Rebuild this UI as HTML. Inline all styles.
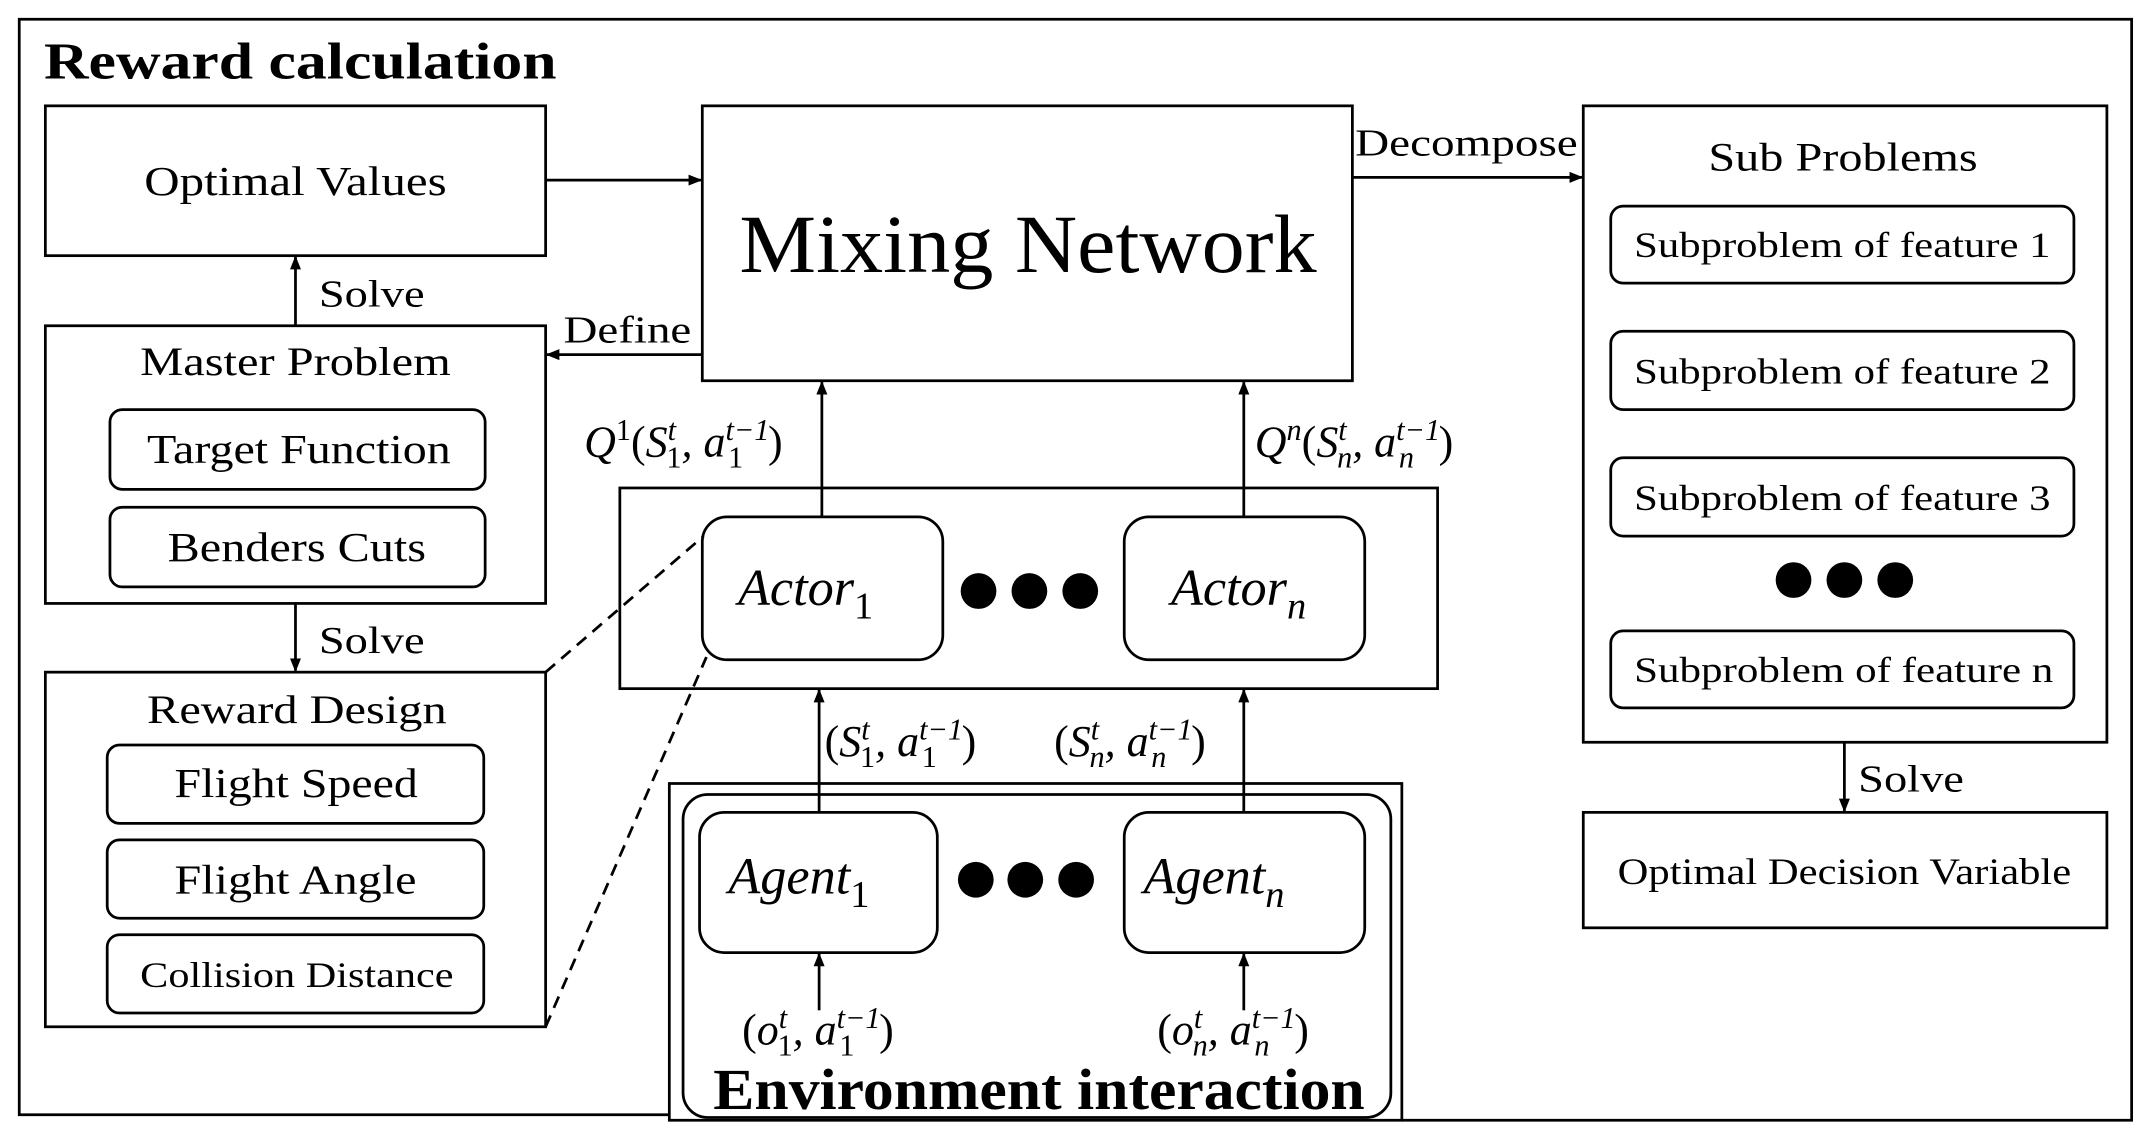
<!DOCTYPE html>
<html><head><meta charset="utf-8"><style>
html,body{margin:0;padding:0;background:#fff;}
svg{display:block;}
text{font-family:"Liberation Serif",serif;fill:#000;}
.it{font-style:italic;}
</style></head><body>
<svg width="2155" height="1145" viewBox="0 0 1568 833" preserveAspectRatio="none" xmlns="http://www.w3.org/2000/svg">
<defs>
<marker id="ah" markerWidth="10" markerHeight="8" refX="9" refY="4" orient="auto" markerUnits="userSpaceOnUse">
<path d="M0,0 L10,4 L0,8 z" fill="#000"/>
</marker>
</defs>
<g fill="none" stroke="#000" stroke-width="2">
<path d="M487,811 L14,811 L14,14 L1551,14 L1551,815 L1020,815"/>
<rect x="487" y="570" width="533" height="245"/>
<rect x="497" y="578" width="515" height="235" rx="18"/>
<rect x="33" y="77" width="364" height="109"/>
<rect x="511" y="77" width="473" height="200"/>
<rect x="1152" y="77" width="381" height="463"/>
<rect x="1172" y="150" width="337" height="56" rx="9"/>
<rect x="1172" y="241" width="337" height="57" rx="9"/>
<rect x="1172" y="333" width="337" height="57" rx="9"/>
<rect x="1172" y="459" width="337" height="56" rx="9"/>
<rect x="1152" y="591" width="381" height="84"/>
<rect x="33" y="237" width="364" height="202"/>
<rect x="80" y="298" width="273" height="58" rx="9"/>
<rect x="80" y="369" width="273" height="58" rx="9"/>
<rect x="33" y="489" width="364" height="258"/>
<rect x="78" y="542" width="274" height="57" rx="9"/>
<rect x="78" y="611" width="274" height="57" rx="9"/>
<rect x="78" y="680" width="274" height="57" rx="9"/>
<rect x="451" y="355" width="595" height="146"/>
<rect x="511" y="376" width="175" height="104" rx="18"/>
<rect x="818" y="376" width="175" height="104" rx="18"/>
<rect x="509" y="591" width="173" height="102" rx="18"/>
<rect x="818" y="591" width="175" height="102" rx="18"/>
</g>
<g stroke="#000" stroke-width="2" fill="none" marker-end="url(#ah)">
<line x1="397" y1="131" x2="510" y2="131"/>
<line x1="984" y1="129" x2="1151" y2="129"/>
<line x1="1342" y1="540" x2="1342" y2="590"/>
<line x1="215" y1="237" x2="215" y2="187"/>
<line x1="511" y1="258" x2="398" y2="258"/>
<line x1="215" y1="439" x2="215" y2="488"/>
<line x1="598" y1="376" x2="598" y2="278"/>
<line x1="905" y1="376" x2="905" y2="278"/>
<line x1="596" y1="591" x2="596" y2="502"/>
<line x1="905" y1="591" x2="905" y2="502"/>
<line x1="596" y1="735" x2="596" y2="694"/>
<line x1="905" y1="735" x2="905" y2="694"/>
</g>
<g stroke="#000" stroke-width="2" stroke-dasharray="9,6" fill="none">
<line x1="397" y1="489" x2="512" y2="390"/>
<line x1="397" y1="747" x2="514" y2="478"/>
</g>
<g fill="#000">
<circle cx="712" cy="430" r="13"/><circle cx="749" cy="430" r="13"/><circle cx="786" cy="430" r="13"/>
<circle cx="710" cy="640" r="13"/><circle cx="746" cy="640" r="13"/><circle cx="783" cy="640" r="13"/>
<circle cx="1305" cy="422" r="13"/><circle cx="1342" cy="422" r="13"/><circle cx="1379" cy="422" r="13"/>
</g>
<g lengthAdjust="spacingAndGlyphs">
<text x="32" y="57" font-size="38" font-weight="bold" textLength="373" lengthAdjust="spacingAndGlyphs">Reward calculation</text>
<text x="105" y="142" font-size="30" textLength="220" lengthAdjust="spacingAndGlyphs">Optimal Values</text>
<text x="538" y="198" font-size="60" textLength="420" lengthAdjust="spacingAndGlyphs">Mixing Network</text>
<text x="986" y="113" font-size="28" textLength="162" lengthAdjust="spacingAndGlyphs">Decompose</text>
<text x="1243" y="124" font-size="29" textLength="196" lengthAdjust="spacingAndGlyphs">Sub Problems</text>
<text x="1189" y="187" font-size="26" textLength="303" lengthAdjust="spacingAndGlyphs">Subproblem of feature 1</text>
<text x="1189" y="279" font-size="26" textLength="303" lengthAdjust="spacingAndGlyphs">Subproblem of feature 2</text>
<text x="1189" y="371" font-size="26" textLength="303" lengthAdjust="spacingAndGlyphs">Subproblem of feature 3</text>
<text x="1189" y="496" font-size="26" textLength="305" lengthAdjust="spacingAndGlyphs">Subproblem of feature n</text>
<text x="1352" y="576" font-size="28" textLength="77" lengthAdjust="spacingAndGlyphs">Solve</text>
<text x="1177" y="643" font-size="27" textLength="330" lengthAdjust="spacingAndGlyphs">Optimal Decision Variable</text>
<text x="232" y="223" font-size="28" textLength="77" lengthAdjust="spacingAndGlyphs">Solve</text>
<text x="410" y="249" font-size="28" textLength="93" lengthAdjust="spacingAndGlyphs">Define</text>
<text x="102" y="273" font-size="29" textLength="226" lengthAdjust="spacingAndGlyphs">Master Problem</text>
<text x="107" y="337" font-size="30" textLength="221" lengthAdjust="spacingAndGlyphs">Target Function</text>
<text x="122" y="408" font-size="30" textLength="188" lengthAdjust="spacingAndGlyphs">Benders Cuts</text>
<text x="232" y="475" font-size="28" textLength="77" lengthAdjust="spacingAndGlyphs">Solve</text>
<text x="107" y="526" font-size="29" textLength="218" lengthAdjust="spacingAndGlyphs">Reward Design</text>
<text x="127" y="580" font-size="30" textLength="177" lengthAdjust="spacingAndGlyphs">Flight Speed</text>
<text x="127" y="650" font-size="30" textLength="176" lengthAdjust="spacingAndGlyphs">Flight Angle</text>
<text x="102" y="718" font-size="26" textLength="228" lengthAdjust="spacingAndGlyphs">Collision Distance</text>
</g>
<text x="425" y="332" font-size="32" class="it">Q<tspan dy="-12" font-size="22" font-style="normal">1</tspan><tspan dy="12" font-style="normal">(</tspan>S<tspan dy="-12" font-size="22">t</tspan><tspan dx="-7" dy="20" font-size="22" font-style="normal">1</tspan><tspan dy="-8">, a</tspan><tspan dy="-12" font-size="22">t−1</tspan><tspan dx="-30" dy="20" font-size="22" font-style="normal">1</tspan><tspan dx="18" dy="-8" font-style="normal">)</tspan></text>
<text x="913" y="332" font-size="32" class="it">Q<tspan dy="-12" font-size="22">n</tspan><tspan dy="12" font-style="normal">(</tspan>S<tspan dy="-12" font-size="22">t</tspan><tspan dx="-7" dy="20" font-size="22">n</tspan><tspan dy="-8">, a</tspan><tspan dy="-12" font-size="22">t−1</tspan><tspan dx="-30" dy="20" font-size="22">n</tspan><tspan dx="18" dy="-8" font-style="normal">)</tspan></text>
<text x="600" y="550" font-size="32" class="it"><tspan font-style="normal">(</tspan>S<tspan dy="-12" font-size="22">t</tspan><tspan dx="-7" dy="20" font-size="22" font-style="normal">1</tspan><tspan dy="-8">, a</tspan><tspan dy="-12" font-size="22">t−1</tspan><tspan dx="-30" dy="20" font-size="22" font-style="normal">1</tspan><tspan dx="18" dy="-8" font-style="normal">)</tspan></text>
<text x="767" y="550" font-size="32" class="it"><tspan font-style="normal">(</tspan>S<tspan dy="-12" font-size="22">t</tspan><tspan dx="-7" dy="20" font-size="22">n</tspan><tspan dy="-8">, a</tspan><tspan dy="-12" font-size="22">t−1</tspan><tspan dx="-30" dy="20" font-size="22">n</tspan><tspan dx="18" dy="-8" font-style="normal">)</tspan></text>
<text x="540" y="760" font-size="32" class="it"><tspan font-style="normal">(</tspan>o<tspan dy="-12" font-size="22">t</tspan><tspan dx="-7" dy="20" font-size="22" font-style="normal">1</tspan><tspan dy="-8">, a</tspan><tspan dy="-12" font-size="22">t−1</tspan><tspan dx="-30" dy="20" font-size="22" font-style="normal">1</tspan><tspan dx="18" dy="-8" font-style="normal">)</tspan></text>
<text x="842" y="760" font-size="32" class="it"><tspan font-style="normal">(</tspan>o<tspan dy="-12" font-size="22">t</tspan><tspan dx="-7" dy="20" font-size="22">n</tspan><tspan dy="-8">, a</tspan><tspan dy="-12" font-size="22">t−1</tspan><tspan dx="-30" dy="20" font-size="22">n</tspan><tspan dx="18" dy="-8" font-style="normal">)</tspan></text>
<text x="537" y="440" font-size="38" class="it">Actor<tspan dy="10" font-size="28" font-style="normal">1</tspan></text>
<text x="852" y="440" font-size="38" class="it">Actor<tspan dy="10" font-size="28">n</tspan></text>
<text x="530" y="650" font-size="38" class="it">Agent<tspan dy="10" font-size="28" font-style="normal">1</tspan></text>
<text x="832" y="650" font-size="38" class="it">Agent<tspan dy="10" font-size="28">n</tspan></text>
<text x="519" y="807" font-size="42" font-weight="bold" textLength="474" lengthAdjust="spacingAndGlyphs">Environment interaction</text>
</svg>
</body></html>
